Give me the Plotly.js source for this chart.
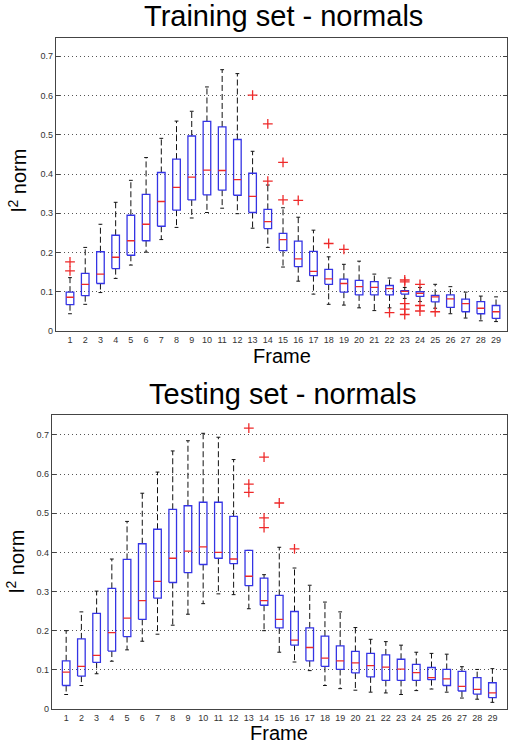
<!DOCTYPE html>
<html>
<head>
<meta charset="utf-8">
<script src="https://cdn.plot.ly/plotly-3.0.1.min.js"></script>
<style>
  html, body { margin: 0; padding: 0; background: #fff; }
  #chart { width: 508px; height: 747px; }
</style>
</head>
<body>
<div id="chart"></div>
<script>
// ---------- Data ----------
const frames = [1,2,3,4,5,6,7,8,9,10,11,12,13,14,15,16,17,18,19,20,21,22,23,24,25,26,27,28,29];

// Training set - normals
const trainLower  = [0.044,0.068,0.098,0.134,0.168,0.201,0.233,0.264,0.288,0.302,0.313,0.299,0.262,0.213,0.163,0.127,0.094,0.068,0.066,0.059,0.052,0.059,0.083,0.075,0.058,0.044,0.033,0.026,0.024];
const trainQ1     = [0.067,0.090,0.121,0.159,0.193,0.230,0.267,0.308,0.334,0.347,0.359,0.346,0.302,0.261,0.205,0.164,0.141,0.119,0.099,0.092,0.092,0.092,0.094,0.088,0.074,0.060,0.049,0.044,0.032];
const trainMedian = [0.086,0.119,0.145,0.188,0.230,0.272,0.330,0.366,0.392,0.410,0.409,0.386,0.343,0.279,0.233,0.184,0.152,0.133,0.121,0.113,0.111,0.108,0.101,0.096,0.087,0.082,0.070,0.058,0.049];
const trainQ3     = [0.099,0.147,0.202,0.244,0.295,0.348,0.404,0.438,0.497,0.534,0.520,0.488,0.402,0.310,0.249,0.229,0.203,0.157,0.132,0.129,0.126,0.116,0.103,0.100,0.091,0.092,0.081,0.075,0.065];
const trainUpper  = [0.136,0.213,0.272,0.328,0.384,0.442,0.491,0.535,0.560,0.622,0.666,0.656,0.458,0.372,0.314,0.290,0.257,0.189,0.170,0.178,0.145,0.135,0.111,0.111,0.119,0.113,0.099,0.089,0.087];
const trainOutFrame = [1,1,13,14,14,15,15,16,18,19,22,23,23,23,23,23,24,24,24,25];
const trainOutValue = [0.176,0.153,0.601,0.528,0.382,0.430,0.334,0.333,0.223,0.208,0.047,0.130,0.125,0.070,0.056,0.042,0.119,0.065,0.051,0.049];

// Testing set - normals
const testLower  = [0.037,0.060,0.090,0.122,0.151,0.173,0.191,0.214,0.242,0.269,0.294,0.292,0.256,0.200,0.145,0.120,0.098,0.060,0.052,0.048,0.043,0.041,0.037,0.047,0.051,0.043,0.028,0.025,0.017];
const testQ1     = [0.060,0.084,0.119,0.148,0.185,0.229,0.283,0.323,0.348,0.369,0.385,0.371,0.315,0.265,0.207,0.163,0.123,0.109,0.101,0.092,0.082,0.073,0.073,0.073,0.075,0.060,0.046,0.038,0.029];
const testMedian = [0.094,0.109,0.137,0.195,0.232,0.277,0.326,0.385,0.403,0.414,0.400,0.383,0.339,0.277,0.229,0.176,0.157,0.130,0.123,0.118,0.111,0.107,0.102,0.093,0.080,0.077,0.058,0.050,0.041];
const testQ3     = [0.123,0.179,0.244,0.308,0.382,0.422,0.459,0.510,0.519,0.528,0.528,0.492,0.405,0.334,0.290,0.249,0.207,0.186,0.161,0.147,0.142,0.138,0.127,0.114,0.106,0.101,0.096,0.080,0.067];
const testUpper  = [0.200,0.248,0.301,0.383,0.479,0.551,0.605,0.659,0.685,0.704,0.694,0.637,0.405,0.343,0.413,0.360,0.316,0.273,0.248,0.208,0.178,0.172,0.163,0.145,0.142,0.140,0.108,0.101,0.103];
const testOutFrame = [13,13,13,14,14,14,15,16];
const testOutValue = [0.717,0.574,0.553,0.643,0.488,0.463,0.526,0.409];

const yTickVals  = [0,0.1,0.2,0.3,0.4,0.5,0.6,0.7];
const yTickText  = ['0','0.1','0.2','0.3','0.4','0.5','0.6','0.7'];
const titleTrain = 'Training set - normals';
const titleTest  = 'Testing set - normals';
const xLabel = 'Frame';
const yLabel = 'l<sup>2</sup> norm';

// ---------- Style ----------
const BLUE = '#3434e4';
const RED = '#ee2a2a';
const HALF_BOX = 0.25;
const HALF_CAP = 0.125;

function boxTraces(lo, q1, med, q3, hi, outF, outV, xa, ya) {
  const wx = [], wy = [], bx = [], by = [], mx = [], my = [], cx = [], cy = [];
  frames.forEach((f, i) => {
    wx.push(f, f, null, f, f, null);
    wy.push(q3[i], hi[i], null, q1[i], lo[i], null);
    cx.push(f - HALF_CAP, f + HALF_CAP, null, f - HALF_CAP, f + HALF_CAP, null);
    cy.push(hi[i], hi[i], null, lo[i], lo[i], null);
    bx.push(f - HALF_BOX, f + HALF_BOX, f + HALF_BOX, f - HALF_BOX, f - HALF_BOX, null);
    by.push(q1[i], q1[i], q3[i], q3[i], q1[i], null);
    mx.push(f - HALF_BOX, f + HALF_BOX, null);
    my.push(med[i], med[i], null);
  });
  const common = { xaxis: xa, yaxis: ya, hoverinfo: 'skip', showlegend: false, type: 'scatter' };
  return [
    Object.assign({ x: wx, y: wy, mode: 'lines', line: { color: '#111', width: 1, dash: '6px,3px' } }, common),
    Object.assign({ x: cx, y: cy, mode: 'lines', line: { color: '#111', width: 1 } }, common),
    Object.assign({ x: bx, y: by, mode: 'lines', line: { color: BLUE, width: 1.3 } }, common),
    Object.assign({ x: mx, y: my, mode: 'lines', line: { color: RED, width: 1.3 } }, common),
    Object.assign({ x: outF, y: outV, mode: 'markers',
      marker: { symbol: 'cross-thin', size: 7, color: RED, line: { color: RED, width: 1.3 } } }, common)
  ];
}

const data = [].concat(
  boxTraces(trainLower, trainQ1, trainMedian, trainQ3, trainUpper, trainOutFrame, trainOutValue, 'x', 'y'),
  boxTraces(testLower, testQ1, testMedian, testQ3, testUpper, testOutFrame, testOutValue, 'x2', 'y2')
);

const tickFont = { family: 'Liberation Sans, Arial, sans-serif', size: 9, color: '#333' };
function xAxis(domain, range, anchor) {
  return {
    domain: domain, range: range, anchor: anchor,
    tickmode: 'array', tickvals: frames, ticktext: frames.map(String),
    ticks: '', showgrid: false, zeroline: false,
    showline: true, linecolor: '#444', linewidth: 1, mirror: true,
    tickfont: tickFont, fixedrange: true
  };
}
function yAxis(domain, range, anchor) {
  return {
    domain: domain, range: range, anchor: anchor,
    tickmode: 'array', tickvals: yTickVals, ticktext: yTickText,
    ticks: 'inside', ticklen: 4, tickcolor: '#444', mirror: 'allticks',
    showline: true, linecolor: '#444', linewidth: 1,
    showgrid: true, gridcolor: '#555', gridwidth: 1, griddash: '1px,3px',
    zeroline: false, tickfont: tickFont, fixedrange: true
  };
}

const W = 508, H = 747;
const labelFont = { family: 'Liberation Sans, Arial, sans-serif', size: 20, color: '#000' };
const titleFont = { family: 'Liberation Sans, Arial, sans-serif', size: 29, color: '#000' };

const layout = {
  width: W, height: H,
  margin: { l: 0, r: 0, t: 0, b: 0 },
  paper_bgcolor: '#fff', plot_bgcolor: '#fff',
  showlegend: false,
  xaxis:  xAxis([55.7 / W, 507.3 / W], [0.06, 29.74], 'y'),
  yaxis:  yAxis([(H - 331) / H, (H - 37.5) / H], [0, 0.748], 'x'),
  xaxis2: xAxis([51.7 / W, 507 / W], [0.05, 29.96], 'y2'),
  yaxis2: yAxis([(H - 709) / H, (H - 415.3) / H], [0, 0.750], 'x2'),
  annotations: [
    { text: titleTrain, xref: 'paper', yref: 'paper', x: 283 / W, y: 1 - 16 / H, xanchor: 'center', yanchor: 'middle', showarrow: false, font: titleFont },
    { text: titleTest,  xref: 'paper', yref: 'paper', x: 283 / W, y: 1 - 394 / H, xanchor: 'center', yanchor: 'middle', showarrow: false, font: titleFont },
    { text: xLabel, xref: 'paper', yref: 'paper', x: 282 / W, y: 1 - 356 / H, xanchor: 'center', yanchor: 'middle', showarrow: false, font: labelFont },
    { text: xLabel, xref: 'paper', yref: 'paper', x: 279 / W, y: 1 - 733 / H, xanchor: 'center', yanchor: 'middle', showarrow: false, font: labelFont },
    { text: yLabel, xref: 'paper', yref: 'paper', x: 17 / W, y: 1 - 181 / H, xanchor: 'center', yanchor: 'middle', textangle: -90, showarrow: false, font: labelFont },
    { text: yLabel, xref: 'paper', yref: 'paper', x: 15 / W, y: 1 - 562 / H, xanchor: 'center', yanchor: 'middle', textangle: -90, showarrow: false, font: labelFont }
  ]
};

Plotly.newPlot('chart', data, layout, { displayModeBar: false, staticPlot: true });
</script>
</body>
</html>
